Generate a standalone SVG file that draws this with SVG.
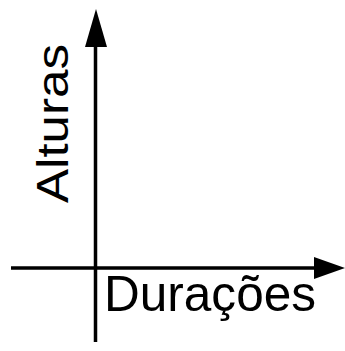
<svg xmlns="http://www.w3.org/2000/svg" width="345" height="351" viewBox="0 0 345 351">
<style>
.axis{stroke:#000;stroke-width:3.5;fill:none}
.head{fill:#000}
.lbl{font-family:"Liberation Sans",Arial,sans-serif;fill:#000}
</style>
<rect width="345" height="351" fill="#fff"/>
<g id="connectors">
<line class="axis" x1="95.5" y1="40" x2="95.5" y2="342"/>
<polygon class="head" points="96,9 85,47 107,47"/>
<line class="axis" x1="11" y1="268" x2="318" y2="268"/>
<polygon class="head" points="345,268 314,257 314,279"/>
</g>
<g id="alturas">
<text class="lbl" font-size="44" transform="translate(68,203) rotate(-90)" x="0" y="0" textLength="159" lengthAdjust="spacingAndGlyphs">Alturas</text>
</g>
<g id="duracoes">
<text class="lbl" font-size="50" x="104" y="311" textLength="212" lengthAdjust="spacingAndGlyphs">Durações</text>
</g>
</svg>
